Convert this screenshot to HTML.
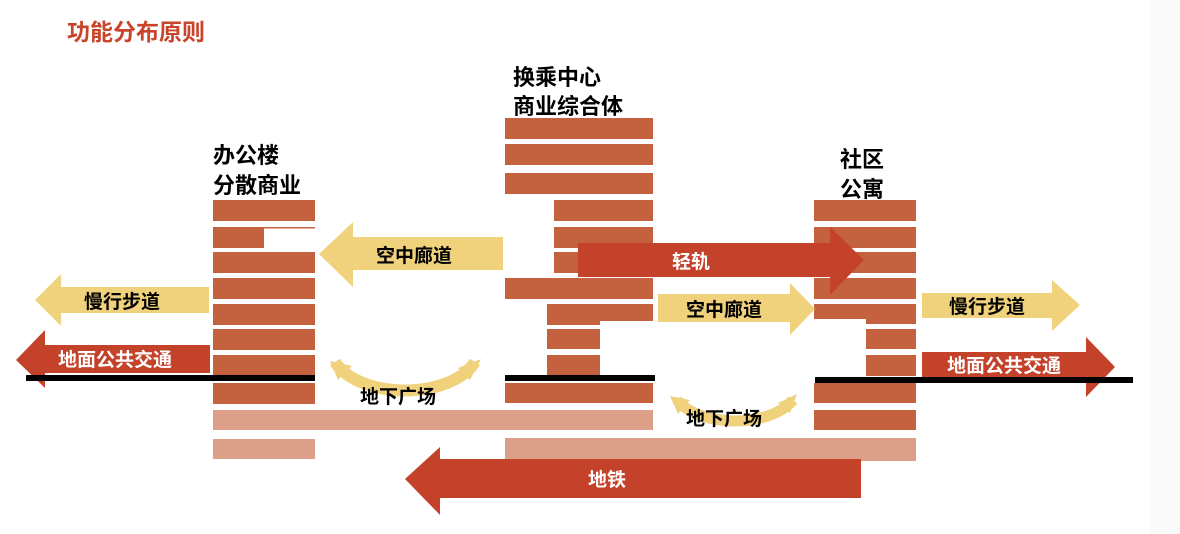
<!DOCTYPE html>
<html><head><meta charset="utf-8"><style>
html,body{margin:0;padding:0;background:#fff;}
svg{display:block;}
text{font-family:"Liberation Sans","Noto Sans CJK SC",sans-serif;}
</style></head><body>
<svg width="1180" height="534" viewBox="0 0 1180 534" xmlns="http://www.w3.org/2000/svg">
<rect x="1150" y="0" width="30" height="534" fill="#fafafa"/>
<text x="67" y="40" font-size="23" font-weight="bold" fill="#c8452c">功能分布原则</text>
<g font-size="22" fill="#000" font-weight="bold">
<text x="213" y="163">办公楼</text><text x="213" y="193">分散商业</text>
<text x="513" y="85">换乘中心</text><text x="513" y="114">商业综合体</text>
<text x="840" y="167">社区</text><text x="840" y="197">公寓</text>
</g>
<g fill="#c4623f">
<rect x="213" y="200" width="102" height="21"/>
<rect x="213" y="227" width="51" height="21"/><rect x="264" y="227" width="51" height="1.5"/>
<rect x="213" y="252" width="102" height="21"/>
<rect x="213" y="278" width="102" height="21"/>
<rect x="213" y="304" width="102" height="21"/>
<rect x="213" y="329" width="102" height="21"/>
<rect x="213" y="355" width="102" height="20"/>
<rect x="213" y="383" width="102" height="21"/>
<rect x="505" y="118" width="148" height="21"/>
<rect x="505" y="144" width="148" height="21"/>
<rect x="505" y="173" width="148" height="21"/>
<rect x="554" y="200" width="99" height="21"/>
<rect x="554" y="227" width="99" height="21"/>
<rect x="554" y="252" width="99" height="21"/>
<rect x="505" y="278" width="148" height="21"/>
<rect x="547" y="304" width="106" height="17"/>
<rect x="547" y="304" width="53" height="21"/>
<rect x="547" y="329" width="53" height="20"/>
<rect x="547" y="355" width="53" height="21"/>
<rect x="505" y="383" width="148" height="20"/>
<rect x="814" y="200" width="102" height="21"/>
<rect x="814" y="227" width="102" height="21"/>
<rect x="814" y="252" width="102" height="21"/>
<rect x="814" y="278" width="102" height="21"/>
<rect x="814" y="304" width="102" height="15"/>
<rect x="866" y="304" width="50" height="20"/>
<rect x="866" y="329" width="50" height="20"/>
<rect x="866" y="355" width="50" height="21"/>
<rect x="814" y="383" width="102" height="20"/>
<rect x="814" y="410" width="102" height="20"/>
</g>
<g fill="#dc9f88">
<rect x="213" y="410" width="440" height="20"/>
<rect x="213" y="439" width="102" height="20"/>
<rect x="505" y="438" width="411" height="23"/>
</g>
<g fill="#f0d17c">
<polygon points="319,254 353,222 353,237 503,237 503,270 353,270 353,287"/>
<polygon points="35,300 61,274 61,287 209,287 209,313 61,313 61,326"/>
<polygon points="815,309 790,283 790,294 658,294 658,322 790,322 790,335"/>
<polygon points="1080,305 1052,280 1052,293 922,293 922,318 1052,318 1052,331"/>
<path d="M335,362 C360,400 450,400 475,362" stroke="#f0d17c" stroke-width="12" fill="none"/>
<polygon points="330,361 352,366 338,380"/>
<polygon points="481,359 470,380 458,368"/>
<path d="M677,400 C700,428 770,428 793,400" stroke="#f0d17c" stroke-width="11" fill="none"/>
<polygon points="670,396 690,400 678,414"/>
<polygon points="797,394 790,413 778,403"/>
</g>
<g fill="#c4412a">
<polygon points="16,360 45,330 45,345 210,345 210,373 45,373 45,388"/>
<polygon points="864,260 830,227 830,243 578,243 578,277 830,277 830,295"/>
<polygon points="1115,367 1086,337 1086,352 922,352 922,377 1086,377 1086,397"/>
<polygon points="405,479 440,447 440,459 861,459 861,498 440,498 440,515"/>
</g>
<g fill="#000">
<rect x="26" y="375" width="289" height="6"/>
<rect x="505" y="375" width="150" height="6"/>
<rect x="815" y="377" width="318" height="6"/>
</g>
<g font-size="19" fill="#000" font-weight="bold">
<text x="376" y="262">空中廊道</text>
<text x="84" y="308">慢行步道</text>
<text x="686" y="316">空中廊道</text>
<text x="949" y="313">慢行步道</text>
<text x="360" y="403">地下广场</text>
<text x="686" y="425">地下广场</text>
</g>
<g font-size="19" fill="#fff" font-weight="bold">
<text x="58" y="366">地面公共交通</text>
<text x="672" y="268">轻轨</text>
<text x="947" y="372">地面公共交通</text>
<text x="588" y="486">地铁</text>
</g>
</svg>
</body></html>
